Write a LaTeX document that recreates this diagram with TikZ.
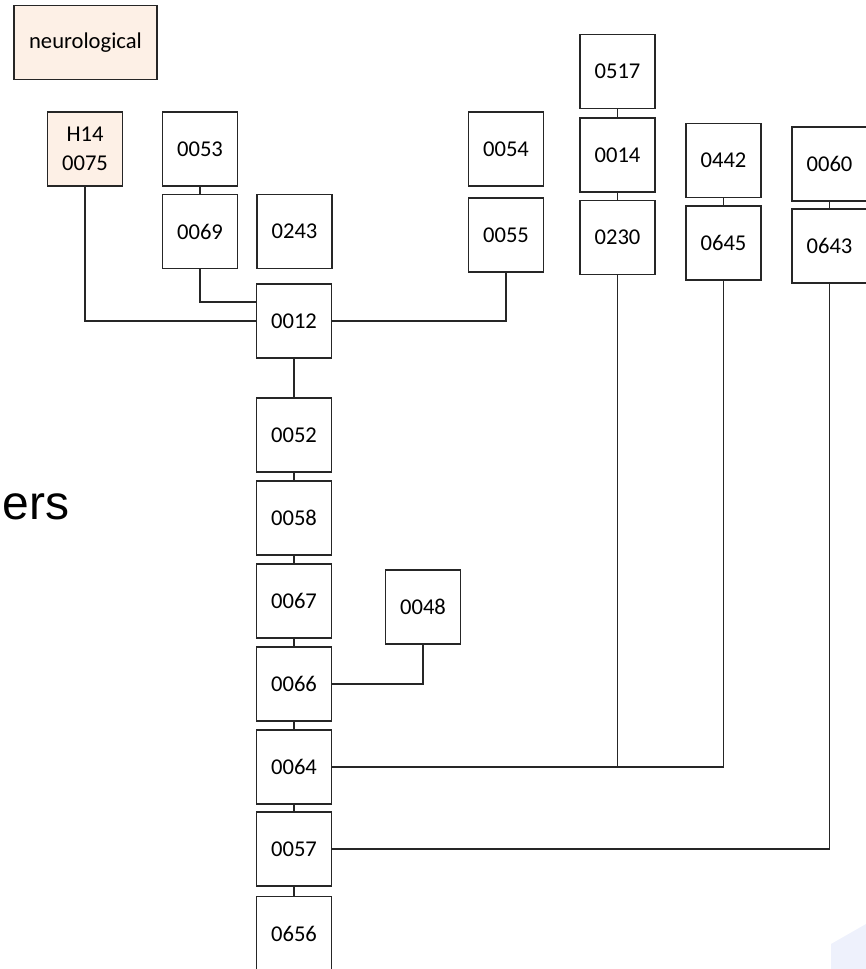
\documentclass[tikz,border=0pt]{standalone}
\usepackage{fontspec}
\setmainfont{Carlito}
\newfontfamily\arialfont{Liberation Sans}
\definecolor{peach}{RGB}{253,240,230}
\definecolor{paleblue}{RGB}{238,241,252}
\begin{document}
\begin{tikzpicture}[
  x=0.5pt, y=-0.5pt,
  font=\fontsize{11.3}{14.5}\selectfont,
  box/.style={draw=black!85, fill=white, minimum width=37.5pt, minimum height=37pt,
              inner sep=0pt, align=center, line width=0.75pt},
  hbox/.style={box, fill=peach},
  e/.style={draw=black!85, line width=0.75pt}
]
\useasboundingbox (0,0) rectangle (866,969);
\clip (0,0) rectangle (866,969);

% leftover text and shape at the edges
\node[anchor=base west, inner sep=0pt, font=\arialfont\fontsize{24}{28}\selectfont] (ers) at (2,519) {ers};
\fill[paleblue] (831,944) -- (866,924) -- (866,969) -- (831,969) -- cycle;

% top left
\node[hbox, minimum width=71.5pt] (neuro) at (85.5,42.5) {neurological};
\node[hbox] (h14) at (85,149) {H14\\0075};
\node[box] (n0053) at (200,149) {0053};
\node[box] (n0069) at (200,231.5) {0069};
\node[box] (n0243) at (294.5,231.5) {0243};
\node[box] (n0012) at (294,321) {0012};
\node[box] (n0054) at (506,149) {0054};
\node[box] (n0055) at (506,235) {0055};

% right columns
\node[box] (n0517) at (617.5,71.5) {0517};
\node[box] (n0014) at (617.5,155) {0014};
\node[box] (n0230) at (617.5,237.5) {0230};
\node[box] (n0442) at (723.5,160.5) {0442};
\node[box] (n0645) at (723.5,243) {0645};
\node[box] (n0060) at (829.5,164) {0060};
\node[box] (n0643) at (829.5,246) {0643};

% spine
\node[box] (n0052) at (294,435) {0052};
\node[box] (n0058) at (294,518) {0058};
\node[box] (n0067) at (294,601) {0067};
\node[box] (n0066) at (294,684) {0066};
\node[box] (n0064) at (294,767) {0064};
\node[box] (n0057) at (294,849) {0057};
\node[box] (n0656) at (294,933.5) {0656};
\node[box] (n0048) at (423,607) {0048};

\draw[e] (h14.south) |- (n0012.west);
\draw[e] (n0069.south) |- ([yshift=9.5pt]n0012.west);
\draw[e] (n0012.east) -| (n0055.south);
\draw[e] (n0066.east) -| (n0048.south);
\draw[e] (n0064.east) -| (n0230.south);
\draw[e] (n0064.east) -| (n0645.south);
\draw[e] (n0057.east) -| (n0643.south);

\foreach \a/\b in {n0053/n0069, n0517/n0014, n0014/n0230, n0442/n0645, n0060/n0643,
                   n0012/n0052, n0052/n0058, n0058/n0067, n0067/n0066,
                   n0066/n0064, n0064/n0057, n0057/n0656} {
  \draw[e] (\a.south) -- (\b.north);
}
\end{tikzpicture}
\end{document}
